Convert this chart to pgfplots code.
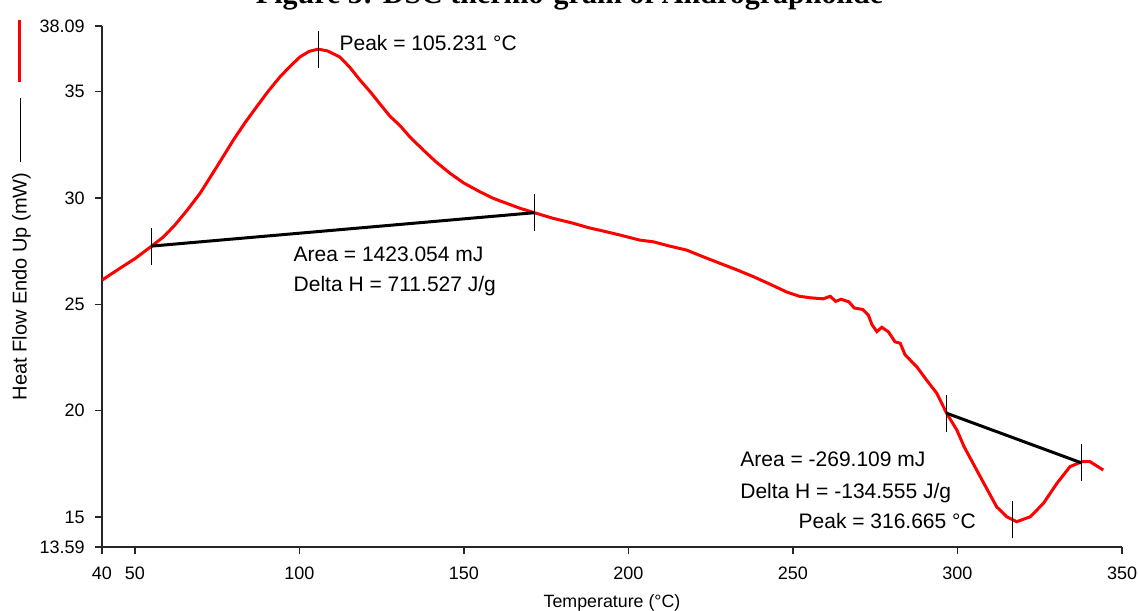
\documentclass[border=0pt]{standalone}
\usepackage{pgfplots}
\pgfplotsset{compat=1.18}
\usepackage{fontspec}
\setmainfont{Liberation Sans}
\newfontfamily\titlefont{Liberation Serif}

\pgfplotstableread{
x y
40.0 26.14
45.0 26.65
50.0 27.15
55.1 27.74
58.5 28.15
62.0 28.70
66.0 29.45
69.8 30.22
74.9 31.47
79.9 32.72
83.5 33.55
87.0 34.29
90.5 35.02
94.1 35.70
97.2 36.20
100.2 36.64
103.0 36.90
105.7 37.00
108.5 36.92
112.3 36.63
115.3 36.15
118.4 35.55
121.5 35.00
124.5 34.42
127.5 33.85
130.6 33.40
133.7 32.85
137.7 32.25
141.5 31.70
145.8 31.16
150.0 30.70
154.9 30.29
159.0 29.98
163.0 29.75
167.0 29.52
171.4 29.31
177.0 29.05
183.3 28.81
188.0 28.60
193.4 28.41
197.4 28.26
203.5 28.02
207.6 27.94
212.0 27.76
217.7 27.55
222.5 27.25
227.8 26.93
233.0 26.62
238.0 26.30
243.0 25.95
248.1 25.58
252.0 25.38
255.2 25.31
259.2 25.26
261.3 25.38
263.0 25.14
264.6 25.24
267.0 25.12
268.6 24.83
271.2 24.76
272.9 24.50
274.0 24.05
275.5 23.72
277.0 23.92
279.0 23.71
281.0 23.24
282.6 23.17
284.1 22.62
287.6 22.07
290.6 21.44
293.7 20.82
296.7 19.88
299.8 19.09
302.0 18.31
306.9 16.90
311.9 15.48
315.0 15.01
318.0 14.78
322.1 15.01
326.1 15.64
330.2 16.58
334.2 17.37
337.8 17.60
340.3 17.60
344.3 17.21
}\dsc

\begin{document}
\begin{tikzpicture}
\begin{axis}[
  at={(0,0)}, anchor=south west,
  scale only axis, width=510pt, height=260.5pt,
  xmin=40, xmax=350, ymin=13.59, ymax=38.09,
  axis lines=left, axis line style={-, line width=0.7pt, black!85},
  tick align=outside, major tick length=3.3pt,
  tick style={black!85, line width=0.6pt},
  xtick={40,50,100,150,200,250,300,350},
  xticklabels={40,50,100,150,200,250,300,350},
  ytick={13.59,15,20,25,30,35,38.09},
  yticklabels={13.59,15,20,25,30,35,38.09},
  ticklabel style={font=\fontsize{9}{10}\selectfont},
  xticklabel style={anchor=north, inner sep=0pt, yshift=-6.5pt},
  yticklabel style={anchor=east, inner sep=0pt, xshift=-5.2pt},
  xlabel={Temperature (°C)},
  xlabel style={font=\fontsize{8.9}{10}\selectfont, at={(axis description cs:0.5,-0.1152)}, anchor=base},
  ylabel={Heat Flow Endo Up (mW)\hspace*{5.5pt}\rule[3pt]{32pt}{0.6pt}\hspace*{8pt}\textcolor{red}{\rule[2.9pt]{31pt}{1.5pt}}},
  ylabel style={font=\fontsize{10}{12}\selectfont, at={(axis description cs:-0.0738,0.6468)}, anchor=base},
  clip=false,
]
\addplot[red, line width=1.5pt] table[x=x, y=y] {\dsc};
% baselines
\addplot[black, line width=1.5pt] coordinates {(55.1,27.74) (171.4,29.31)};
\addplot[black, line width=1.5pt] coordinates {(296.7,19.88) (337.6,17.55)};
% markers
\addplot[black, line width=0.5pt] coordinates {(55.1,26.87) (55.1,28.61)};
\addplot[black, line width=0.5pt] coordinates {(171.4,28.44) (171.4,30.18)};
\addplot[black, line width=0.5pt] coordinates {(105.7,36.13) (105.7,37.87)};
\addplot[black, line width=0.5pt] coordinates {(296.7,19.01) (296.7,20.75)};
\addplot[black, line width=0.5pt] coordinates {(337.6,16.68) (337.6,18.42)};
\addplot[black, line width=0.5pt] coordinates {(316.8,13.99) (316.8,15.73)};
% annotations
\begin{scope}[every node/.style={font=\fontsize{10.5}{12}\selectfont, inner sep=0pt, anchor=base west}]
\node at (axis cs:112.1,36.96) {Peak = 105.231 °C};
\node at (axis cs:98.15,27.00) {Area = 1423.054 mJ};
\node at (axis cs:98.15,25.59) {Delta H = 711.527 J/g};
\node at (axis cs:233.9,17.365) {Area = -269.109 mJ};
\node at (axis cs:233.9,15.88) {Delta H = -134.555 J/g};
\node at (axis cs:251.6,14.47) {Peak = 316.665 °C};
\end{scope}
\node[anchor=base, inner sep=0pt, font=\titlefont\bfseries\fontsize{15}{18}\selectfont] at (axis cs:182.1,39.15) {Figure 5: DSC thermo-gram of Andrographolide};
\end{axis}
\pgfresetboundingbox
\useasboundingbox (-51pt,-31.5pt) rectangle (518pt,273.5pt);
\end{tikzpicture}
\end{document}
